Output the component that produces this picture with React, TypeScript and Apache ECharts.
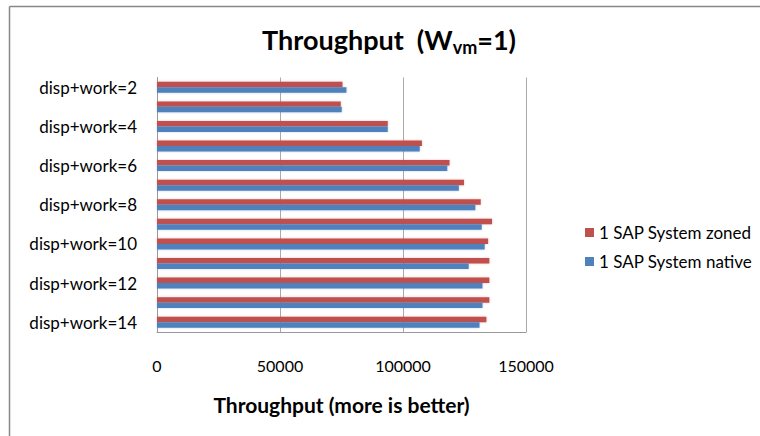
import React, { useEffect, useRef } from "react";
import * as echarts from "echarts";

const categories = [
  "disp+work=2", "disp+work=3", "disp+work=4", "disp+work=5", "disp+work=6",
  "disp+work=7", "disp+work=8", "disp+work=9", "disp+work=10", "disp+work=11",
  "disp+work=12", "disp+work=13", "disp+work=14",
];
const zonedValues = [75400, 74700, 93800, 107700, 118900, 124800, 131600, 136200, 134600, 135100, 135100, 135100, 133900];
const nativeValues = [77000, 75100, 93800, 106800, 118000, 122700, 129400, 132000, 133200, 126700, 132300, 132300, 131100];
const seriesNames = ["1 SAP System zoned", "1 SAP System native"];
const xTicks = { min: 0, max: 150000, interval: 50000 };

const FONT = "Lato, 'Open Sans', sans-serif";

export default function App() {
  const ref = useRef<HTMLDivElement>(null);
  useEffect(() => {
    if (!ref.current) return;
    const chart = echarts.init(ref.current, undefined, { renderer: "svg" });
    chart.setOption({
      animation: false,
      backgroundColor: "#ffffff",
      textStyle: { fontFamily: FONT },
      title: {
        text: "{a|Throughput  (W}{s|vm}{a|=1)}",
        left: 384,
        textAlign: "center",
        top: 18,
        textStyle: {
          rich: {
            a: { fontSize: 27, fontWeight: "bold", color: "#000", fontFamily: FONT, lineHeight: 32 },
            s: { fontSize: 18, fontWeight: "bold", color: "#000", fontFamily: FONT, lineHeight: 32, padding: [15, 0, 0, 0] },
          },
        },
      },
      legend: {
        orient: "vertical",
        left: 580,
        top: 219,
        itemWidth: 9,
        itemHeight: 9,
        itemGap: 12,
        icon: "rect",
        data: seriesNames,
        textStyle: { fontSize: 17, color: "#000", fontFamily: FONT },
      },
      grid: { left: 157, top: 77.5, right: 234, bottom: 104, containLabel: false },
      xAxis: {
        type: "value",
        min: xTicks.min,
        max: xTicks.max,
        interval: xTicks.interval,
        name: "Throughput (more is better)",
        nameLocation: "middle",
        nameGap: 62,
        nameTextStyle: { fontSize: 21, fontWeight: "bold", color: "#000", fontFamily: FONT },
        axisLine: { show: true, lineStyle: { color: "#999" } },
        axisTick: { show: false },
        axisLabel: { fontSize: 16, color: "#000", margin: 25, fontFamily: FONT, formatter: (v: number) => String(v) },
        splitLine: { show: true, lineStyle: { color: "#aaa" } },
      },
      yAxis: {
        type: "category",
        inverse: true,
        data: categories,
        axisLine: { show: true, lineStyle: { color: "#999" } },
        axisTick: { show: false },
        axisLabel: { interval: 1, fontSize: 17, color: "#000", margin: 20, fontFamily: FONT },
        splitLine: { show: false },
      },
      series: [
        {
          name: seriesNames[0],
          type: "bar",
          data: zonedValues,
          barGap: "0%",
          barCategoryGap: "44%",
          itemStyle: { color: "#C0504D", shadowBlur: 2, shadowColor: "rgba(192,80,77,0.35)" },
        },
        {
          name: seriesNames[1],
          type: "bar",
          data: nativeValues,
          barGap: "0%",
          barCategoryGap: "44%",
          itemStyle: { color: "#4F81BD", shadowBlur: 2, shadowColor: "rgba(79,129,189,0.35)" },
        },
      ],
      graphic: [
        { type: "line", shape: { x1: 9.5, y1: 6.5, x2: 760, y2: 6.5 }, style: { stroke: "#888", lineWidth: 1.5 } },
        { type: "line", shape: { x1: 9.5, y1: 6.5, x2: 9.5, y2: 436 }, style: { stroke: "#888", lineWidth: 1.5 } },
      ],
    });
    return () => chart.dispose();
  }, []);
  return (
    <div
      ref={ref}
      style={{ position: "fixed", left: 0, top: 0, width: 760, height: 436 }}
    />
  );
}
